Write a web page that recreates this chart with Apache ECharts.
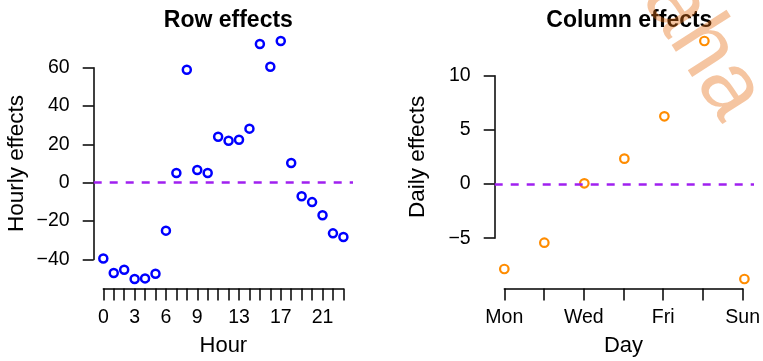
<!DOCTYPE html>
<html lang="en">
<head>
<meta charset="UTF-8"/>
<title>row and column effects</title>
<script src="https://cdn.jsdelivr.net/npm/echarts@6/dist/echarts.min.js"></script>
<style>
  html, body { margin: 0; padding: 0; background: #fff; }
  #main { width: 763px; height: 361px; }
</style>
</head>
<body>
<div id="main"></div>
<script type="text/javascript">
// data
var hours = [0, 1, 2, 3, 4, 5, 6, 7, 8, 9, 10, 11, 12, 13, 14, 15, 16, 17, 18, 19, 20, 21, 22, 23];
var hourlyEffects = [-39.5, -47.1, -45.4, -50.2, -49.9, -47.5, -25.0, 5.1, 58.9, 6.6, 5.1, 24.0,
                     21.9, 22.4, 28.2, 72.3, 60.5, 73.9, 10.3, -7.1, -10.1, -17.0, -26.4, -28.3];
var hourTickLabels = [0, 3, 6, 9, 13, 17, 21];
var hourlyYTicks = [-40, 60, 20];   // min, max, step

var days = ['Mon', 'Tue', 'Wed', 'Thu', 'Fri', 'Sat', 'Sun'];
var dailyEffects = [-7.85, -5.42, 0.06, 2.34, 6.25, 13.2, -8.77];
var dayTickLabels = ['Mon', 'Wed', 'Fri', 'Sun'];
var dailyYTicks = [-5, 10, 5];

var FONT = 'Liberation Sans, Arial, Helvetica, sans-serif';
var plotTop = 31.5, plotBottom = 288.5;

// R-style 4% padding around the data range
function padRange(vals) {
    var lo = Math.min.apply(null, vals), hi = Math.max.apply(null, vals);
    var d = (hi - lo) * 0.04;
    return [lo - d, hi + d];
}

function minus(v) { return String(v).replace('-', '\u2212'); }

var grids = [], xAxes = [], yAxes = [], series = [];

function addPanel(p) {
    var g = grids.length;
    var xr = padRange(p.x), yr = padRange(p.y);
    var w = p.right - p.left, h = plotBottom - plotTop;
    var xPix = function (v) { return p.left + (v - xr[0]) / (xr[1] - xr[0]) * w; };
    var yPix = function (v) { return plotTop + (yr[1] - v) / (yr[1] - yr[0]) * h; };

    // data area
    grids.push({left: p.left, top: plotTop, width: w, height: h});
    xAxes.push({gridIndex: g, type: 'value', min: xr[0], max: xr[1], show: false});
    yAxes.push({gridIndex: g, type: 'value', min: yr[0], max: yr[1], show: false});

    // y axis drawn only between first and last tick, like R
    var yt = p.yTicks;
    grids.push({left: p.left, top: yPix(yt[1]), width: 10, height: yPix(yt[0]) - yPix(yt[1])});
    xAxes.push({gridIndex: g + 1, type: 'value', show: false});
    yAxes.push({
        gridIndex: g + 1, type: 'value', min: yt[0], max: yt[1], interval: yt[2],
        axisLine: {show: true, lineStyle: {color: '#000', width: 1.5}},
        axisTick: {show: true, length: 11, lineStyle: {color: '#000', width: 1.5}},
        axisLabel: {margin: 24, fontSize: 19.5, color: '#000', fontFamily: FONT, formatter: minus},
        splitLine: {show: false},
        name: p.yName, nameLocation: 'middle', nameRotate: 90, nameGap: 65,
        nameTextStyle: {fontSize: 22.5, color: '#000', fontFamily: FONT}
    });

    // x axis
    var x0 = p.x[0], x1 = p.x[p.x.length - 1];
    grids.push({left: xPix(x0), top: plotBottom - 10, width: xPix(x1) - xPix(x0), height: 10});
    xAxes.push({
        gridIndex: g + 2, type: 'value', position: 'bottom', min: x0, max: x1, interval: 1,
        axisLine: {show: true, lineStyle: {color: '#000', width: 1.5}},
        axisTick: {show: true, length: 12, lineStyle: {color: '#000', width: 1.5}},
        axisLabel: {margin: 19, fontSize: 19.5, color: '#000', fontFamily: FONT, formatter: p.xLabel},
        splitLine: {show: false},
        name: p.xName, nameLocation: 'middle', nameGap: 46,
        nameTextStyle: {fontSize: 22, color: '#000', fontFamily: FONT}
    });
    yAxes.push({gridIndex: g + 2, type: 'value', show: false});

    series.push({
        type: 'scatter', xAxisIndex: g, yAxisIndex: g,
        data: p.x.map(function (v, i) { return [v, p.y[i]]; }),
        symbol: 'circle', symbolSize: p.size,
        itemStyle: {color: 'rgba(0,0,0,0)', borderColor: p.color, borderWidth: p.border, opacity: 1},
        markLine: {
            silent: true, symbol: 'none', label: {show: false},
            lineStyle: {color: '#A020F0', width: 2.5, type: [8, 8], opacity: 1},
            data: [{yAxis: 0}]
        },
        z: 3
    });

    return (p.left + p.right) / 2;
}

var c1 = addPanel({
    left: 93.7, right: 353.0, x: hours, y: hourlyEffects, yTicks: hourlyYTicks,
    yName: 'Hourly effects', xName: 'Hour', color: '#0000FF', size: 8, border: 2.5,
    xLabel: function (v) { return hourTickLabels.indexOf(v) >= 0 ? String(v) : ''; }
});
var c2 = addPanel({
    left: 494.7, right: 754.0, x: [1, 2, 3, 4, 5, 6, 7], y: dailyEffects, yTicks: dailyYTicks,
    yName: 'Daily effects', xName: 'Day', color: '#FF8C00', size: 8.5, border: 2.2,
    xLabel: function (v) {
        var d = days[v - 1];
        return dayTickLabels.indexOf(d) >= 0 ? d : '';
    }
});

var titleStyle = {fontSize: 23, fontWeight: 'bold', color: '#000', fontFamily: FONT};

var myChart = echarts.init(document.getElementById('main'), null, {renderer: 'canvas'});
var option = {
    backgroundColor: '#fff',
    animation: false,
    title: [
        {text: 'Row effects', left: c1, top: 4, textAlign: 'center', textStyle: titleStyle},
        {text: 'Column effects', left: c2, top: 4, textAlign: 'center', textStyle: titleStyle}
    ],
    grid: grids,
    xAxis: xAxes,
    yAxis: yAxes,
    series: series,
    graphic: [{
        type: 'text', x: 700, y: -40, rotation: -1.0, z: 100, silent: true,
        style: {text: 'aha', font: '90px ' + FONT, fill: 'rgba(230,110,20,0.4)'}
    }]
};
myChart.setOption(option);
</script>
</body>
</html>
